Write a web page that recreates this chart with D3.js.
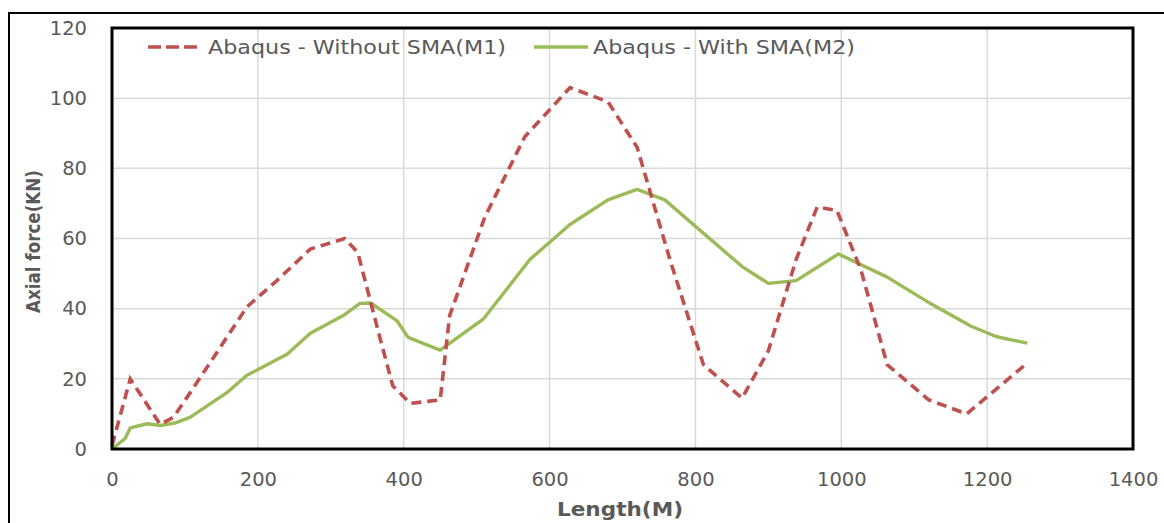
<!DOCTYPE html>
<html>
<head>
<meta charset="utf-8">
<script src="https://cdn.jsdelivr.net/npm/d3@7"></script>
<style>
	body { margin: 0; background: #fff; }
	svg text { font-family: "DejaVu Sans", sans-serif; fill: #595959; }
	.grid line { stroke: #d9d9d9; stroke-width: 1.5; }
	.axis text { font-size: 19.5px; }
	.axis path, .axis line { display: none; }
</style>
</head>
<body>
<svg id="graph"></svg>
<script>
// Without SMA (M1)
var m1_x = [ 0, 25, 66, 84, 107, 139, 185, 226, 272, 319, 337, 367, 385, 409, 450, 463, 511, 566, 628, 680, 720, 765, 811, 864, 900, 938, 967, 994, 1027, 1063, 1120, 1172, 1255 ];
var m1_y = [ 1, 20, 7, 9, 16, 26, 40.5, 48, 57, 60, 56, 32, 18, 13, 14, 38, 66, 89, 103, 99, 86, 54, 24, 14.5, 28, 54, 69, 68, 51, 24, 14, 10, 24.5 ];

// With SMA (M2)
var m2_x = [ 0, 18, 25, 48, 66, 86, 107, 159, 185, 240, 272, 319, 340, 355, 391, 406, 450, 509, 573, 628, 680, 720, 758, 864, 900, 938, 996, 1063, 1118, 1178, 1213, 1255 ];
var m2_y = [ 0, 3, 6, 7.2, 6.7, 7.4, 9, 16.3, 21, 27, 33, 38.3, 41.5, 41.6, 36.5, 31.8, 28.2, 37, 54, 64, 71, 74, 71, 52, 47.2, 48, 55.6, 49, 42, 35, 32, 30.2 ];

var x_ticks = [ 0, 200, 400, 600, 800, 1000, 1200, 1400 ];
var y_ticks = [ 0, 20, 40, 60, 80, 100, 120 ];

var series_names = [ "Abaqus - Without SMA(M1)", "Abaqus - With SMA(M2)" ];
var series_colors = [ "#c0504d", "#9bbb59" ];

var W = 1164, H = 523;
var margin = { top : 28, right : 31, bottom : 74, left : 112 };
var width  = W - margin.left - margin.right;
var height = H - margin.top  - margin.bottom;

var root = d3.select( "#graph" ).attr( "width", W ).attr( "height", H );

// outer frame
root.append( "rect" )
	.attr( "x", 9 ).attr( "y", 13 )
	.attr( "width", W ).attr( "height", H )
	.attr( "fill", "none" ).attr( "stroke", "#000" ).attr( "stroke-width", 2 );

var svg = root.append( "g" )
	.attr( "transform", "translate(" + margin.left + "," + margin.top + ")" );

var x = d3.scaleLinear().domain([ 0, 1400 ]).range([ 0, width ]);
var y = d3.scaleLinear().domain([ 0, 120 ]).range([ height, 0 ]);

// gridlines
svg.append( "g" ).attr( "class", "grid" )
	.selectAll( "line.h" ).data( y_ticks ).enter().append( "line" )
		.attr( "x1", 0 ).attr( "x2", width )
		.attr( "y1", d => y( d ) ).attr( "y2", d => y( d ) );
svg.append( "g" ).attr( "class", "grid" )
	.selectAll( "line.v" ).data( x_ticks ).enter().append( "line" )
		.attr( "y1", 0 ).attr( "y2", height )
		.attr( "x1", d => x( d ) ).attr( "x2", d => x( d ) );

// axes (labels only)
svg.append( "g" ).attr( "class", "x axis" )
	.attr( "transform", "translate(0," + height + ")" )
	.call( d3.axisBottom( x ).tickValues( x_ticks ).tickFormat( d3.format( "d" ) ).tickSize( 0 ).tickPadding( 23 ) );
svg.append( "g" ).attr( "class", "y axis" )
	.call( d3.axisLeft( y ).tickValues( y_ticks ).tickFormat( d3.format( "d" ) ).tickSize( 0 ).tickPadding( 25 ) );

// lines
var line = d3.line()
	.x( d => x( d[0] ) )
	.y( d => y( d[1] ) );

svg.append( "path" )
	.attr( "d", line( m2_x.map( ( v, i ) => [ v, m2_y[i] ] ) ) )
	.attr( "fill", "none" ).attr( "stroke", series_colors[1] )
	.attr( "stroke-width", 3.4 ).attr( "stroke-linejoin", "round" );

svg.append( "path" )
	.attr( "d", line( m1_x.map( ( v, i ) => [ v, m1_y[i] ] ) ) )
	.attr( "fill", "none" ).attr( "stroke", series_colors[0] )
	.attr( "stroke-width", 3.6 ).attr( "stroke-dasharray", "10,6" );

// plot border
svg.append( "rect" )
	.attr( "width", width ).attr( "height", height )
	.attr( "fill", "none" ).attr( "stroke", "#000" ).attr( "stroke-width", 3 );

// legend
var legend = [
	{ x1 : 148, x2 : 202, tx : 208, len : 298, dash : "13,5" },
	{ x1 : 534, x2 : 588, tx : 593, len : 262, dash : null }
];
legend.forEach(function( l, i ){
	root.append( "line" )
		.attr( "x1", l.x1 ).attr( "x2", l.x2 ).attr( "y1", 47 ).attr( "y2", 47 )
		.attr( "stroke", series_colors[i] ).attr( "stroke-width", 3.6 )
		.attr( "stroke-dasharray", l.dash );
	root.append( "text" )
		.attr( "x", l.tx ).attr( "y", 54 )
		.attr( "textLength", l.len ).attr( "lengthAdjust", "spacingAndGlyphs" )
		.style( "font-size", "20px" )
		.text( series_names[i] );
});

// axis titles
root.append( "text" )
	.attr( "x", 557 ).attr( "y", 516 )
	.attr( "textLength", 126 ).attr( "lengthAdjust", "spacingAndGlyphs" )
	.style( "font-size", "19px" ).style( "font-weight", "bold" )
	.text( "Length(M)" );
root.append( "text" )
	.attr( "transform", "translate(40,313) rotate(-90)" )
	.attr( "textLength", 143 ).attr( "lengthAdjust", "spacingAndGlyphs" )
	.style( "font-size", "20px" ).style( "font-weight", "bold" )
	.text( "Axial force(KN)" );
</script>
</body>
</html>
